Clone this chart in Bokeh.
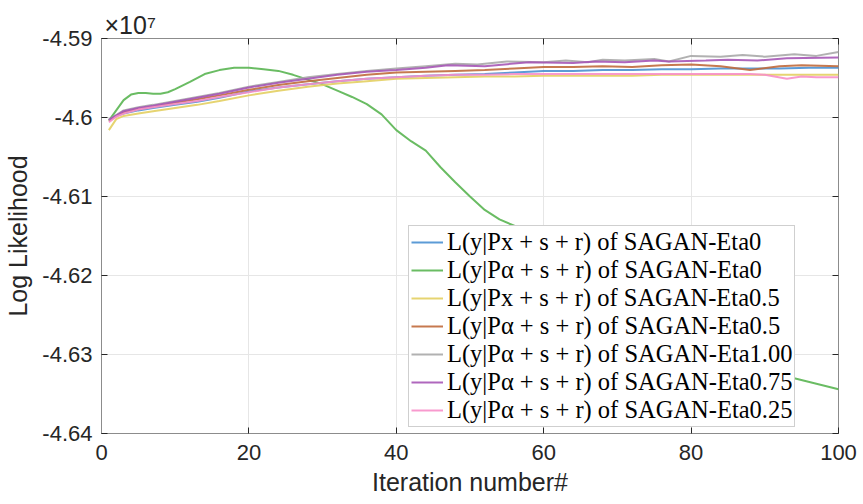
from bokeh.plotting import figure
from bokeh.models import (Range1d, FixedTicker, LinearAxis, CustomJSTickFormatter,
                          Legend, LegendItem)
from bokeh.embed import file_html
from bokeh.resources import INLINE

# values in units of 1e7 (axis multiplier "x10^7")
x_blue = [1, 2, 3, 5, 7, 10, 13, 16, 20, 24, 28, 32, 36, 40, 44, 48, 52, 56, 60, 64, 68, 72, 76, 80, 84, 88, 92, 96, 100]
y_blue = [-4.6003, -4.5998, -4.5995, -4.5991, -4.5988, -4.5984, -4.5980, -4.5975, -4.5967, -4.5962, -4.5958, -4.5954,
          -4.5951, -4.5949, -4.5947, -4.5946, -4.5945, -4.5943, -4.5941, -4.5941, -4.5940, -4.5940, -4.5939, -4.5939,
          -4.5938, -4.5938, -4.5938, -4.5937, -4.5937]

x_green = [1, 2, 3, 4, 5, 6, 7, 8, 9, 10, 12, 14, 16, 18, 20, 22, 24, 26, 28, 30, 32, 34, 36, 38, 40, 42, 44, 46, 48,
           50, 52, 54, 56, 58, 60, 65, 70, 75, 80, 85, 90, 94, 97, 100]
y_green = [-4.6004, -4.5991, -4.5978, -4.5971, -4.5969, -4.5969, -4.5970, -4.5970, -4.5968, -4.5964, -4.5955, -4.5945,
           -4.5940, -4.5937, -4.5937, -4.5939, -4.5941, -4.5946, -4.5952, -4.5958, -4.5966, -4.5974, -4.5983, -4.5996,
           -4.6016, -4.6030, -4.6042, -4.6063, -4.6082, -4.6100, -4.6117, -4.6129, -4.6137, -4.6145, -4.6158, -4.6190,
           -4.6220, -4.6250, -4.6277, -4.6300, -4.6318, -4.6330, -4.6337, -4.6344]

x_yellow = [1, 2, 3, 5, 7, 10, 13, 16, 20, 24, 28, 32, 36, 40, 44, 48, 52, 56, 60, 64, 68, 72, 76, 80, 84, 88, 92, 96, 100]
y_yellow = [-4.6016, -4.6002, -4.5998, -4.5995, -4.5992, -4.5988, -4.5984, -4.5979, -4.5972, -4.5966, -4.5961, -4.5957,
            -4.5954, -4.5951, -4.5950, -4.5949, -4.5948, -4.5948, -4.5947, -4.5947, -4.5947, -4.5947, -4.5946, -4.5946,
            -4.5946, -4.5946, -4.5946, -4.5946, -4.5946]

x_brown = [1, 3, 5, 7, 10, 13, 16, 20, 24, 28, 32, 36, 40, 44, 48, 52, 56, 60, 64, 68, 72, 76, 80, 84, 88, 92, 95, 100]
y_brown = [-4.6004, -4.5993, -4.5989, -4.5986, -4.5981, -4.5977, -4.5972, -4.5965, -4.5959, -4.5954, -4.5950, -4.5946,
           -4.5943, -4.5942, -4.5941, -4.5940, -4.5938, -4.5936, -4.5936, -4.5935, -4.5936, -4.5934, -4.5933, -4.5935,
           -4.5940, -4.5935, -4.5934, -4.5935]

x_gray = [1, 3, 5, 7, 10, 13, 16, 20, 24, 28, 32, 36, 40, 44, 48, 51, 55, 60, 63, 66, 68, 71, 75, 77, 80, 84, 87, 90,
          94, 97, 100]
y_gray = [-4.6003, -4.5991, -4.5987, -4.5984, -4.5979, -4.5974, -4.5969, -4.5961, -4.5955, -4.5949, -4.5945, -4.5941,
          -4.5938, -4.5935, -4.5932, -4.5933, -4.5929, -4.5930, -4.5928, -4.5930, -4.5927, -4.5928, -4.5926, -4.5929,
          -4.5922, -4.5923, -4.5921, -4.5923, -4.5920, -4.5922, -4.5917]

x_purple = [1, 3, 5, 7, 10, 13, 16, 20, 24, 28, 32, 36, 40, 44, 47, 52, 58, 64, 67, 71, 75, 77, 82, 85, 89, 93, 100]
y_purple = [-4.6003, -4.5992, -4.5988, -4.5985, -4.5980, -4.5975, -4.5970, -4.5962, -4.5956, -4.5951, -4.5946, -4.5942,
            -4.5940, -4.5937, -4.5934, -4.5935, -4.5930, -4.5931, -4.5929, -4.5930, -4.5928, -4.5929, -4.5928, -4.5927,
            -4.5928, -4.5925, -4.5924]

x_pink = [1, 2, 3, 5, 7, 10, 13, 16, 20, 24, 28, 32, 36, 40, 44, 48, 52, 56, 60, 64, 68, 72, 76, 80, 84, 88, 90, 93,
          95, 97, 100]
y_pink = [-4.6006, -4.5999, -4.5995, -4.5990, -4.5987, -4.5983, -4.5979, -4.5974, -4.5968, -4.5962, -4.5958, -4.5954,
          -4.5951, -4.5949, -4.5947, -4.5946, -4.5946, -4.5945, -4.5945, -4.5945, -4.5945, -4.5945, -4.5945, -4.5945,
          -4.5945, -4.5945, -4.5946, -4.5951, -4.5948, -4.5949, -4.5949]

labels = [
    "L(y|Px + s + r) of SAGAN-Eta0",
    "L(y|P\u03b1 + s + r) of SAGAN-Eta0",
    "L(y|Px + s + r) of SAGAN-Eta0.5",
    "L(y|P\u03b1 + s + r) of SAGAN-Eta0.5",
    "L(y|P\u03b1 + s + r) of SAGAN-Eta1.00",
    "L(y|P\u03b1 + s + r) of SAGAN-Eta0.75",
    "L(y|P\u03b1 + s + r) of SAGAN-Eta0.25",
]
colors = ["#4a90d2", "#5ab552", "#e3cf62", "#c06a3c", "#a8a8a8", "#a656b6", "#f78fc9"]

x_ticks = [0, 20, 40, 60, 80, 100]
y_ticks = [-4.64, -4.63, -4.62, -4.61, -4.60, -4.59]
multiplier = "\u00d710\u2077"

series = [(x_blue, y_blue), (x_green, y_green), (x_yellow, y_yellow), (x_brown, y_brown),
          (x_gray, y_gray), (x_purple, y_purple), (x_pink, y_pink)]

p = figure(width=862, height=503, output_backend="svg", toolbar_location=None,
           x_range=Range1d(0, 100), y_range=Range1d(-4.64, -4.59),
           min_border_left=101, min_border_right=24, min_border_top=38, min_border_bottom=70)
p.background_fill_color = "white"
p.border_fill_color = "white"
p.outline_line_color = "#8c8c8c"
p.outline_line_width = 1

FONT = "Liberation Sans"
p.title.text = multiplier
p.title.align = "left"
p.title.offset = 3
p.title.standoff = 0
p.title.text_font = FONT
p.title.text_font_size = "25px"
p.title.text_font_style = "normal"
p.title.text_color = "#262626"

for ax in (p.xaxis[0], p.yaxis[0]):
    ax.major_label_text_font = FONT
    ax.major_label_text_font_size = "22px"
    ax.major_label_text_color = "#262626"
    ax.axis_label_text_font = FONT
    ax.axis_label_text_font_size = "25px"
    ax.axis_label_text_font_style = "normal"
    ax.axis_label_text_color = "#262626"
    ax.axis_line_color = "#8c8c8c"
    ax.major_tick_line_color = "#262626"
    ax.major_tick_in = 6
    ax.major_tick_out = 0
    ax.minor_tick_line_color = None

p.xaxis[0].ticker = FixedTicker(ticks=x_ticks)
p.yaxis[0].ticker = FixedTicker(ticks=y_ticks)
p.yaxis[0].formatter = CustomJSTickFormatter(code="return String(parseFloat(tick.toFixed(2)));")
p.xaxis[0].axis_label = "Iteration number#"
p.yaxis[0].axis_label = "Log Likelihood"
p.xaxis[0].major_label_standoff = 11
p.xaxis[0].axis_label_standoff = 5
p.yaxis[0].major_label_standoff = 9
p.yaxis[0].axis_label_standoff = 7

empty = CustomJSTickFormatter(code="return '';")
top = LinearAxis(ticker=FixedTicker(ticks=x_ticks), formatter=empty, major_tick_in=6, major_tick_out=0,
                 minor_tick_line_color=None, axis_line_color=None, major_tick_line_color="#262626",
                 major_label_standoff=0, major_label_text_font_size="1px")
right = LinearAxis(ticker=FixedTicker(ticks=y_ticks), formatter=empty, major_tick_in=6, major_tick_out=0,
                   minor_tick_line_color=None, axis_line_color=None, major_tick_line_color="#262626",
                   major_label_standoff=0, major_label_text_font_size="1px")
p.add_layout(top, "above")
p.add_layout(right, "right")

p.xgrid.ticker = FixedTicker(ticks=x_ticks)
p.ygrid.ticker = FixedTicker(ticks=y_ticks)
p.grid.grid_line_color = "#e6e6e6"
p.grid.grid_line_width = 1

renderers = []
for (xs, ys), c in zip(series, colors):
    r = p.line(xs, ys, line_color=c, line_width=2, line_alpha=0.9)
    renderers.append(r)

items = [LegendItem(label=l, renderers=[r]) for l, r in zip(labels, renderers)]
legend = Legend(items=items, location=(307, 6))
legend.label_text_font = "Liberation Serif"
legend.label_text_font_size = "24.5px"
legend.label_text_color = "#000000"
legend.label_height = 28
legend.glyph_height = 28
legend.glyph_width = 32
legend.label_standoff = 4
legend.spacing = 0
legend.padding = 2
legend.margin = 0
legend.border_line_color = "#a0a0a0"
legend.border_line_width = 1
legend.background_fill_color = "white"
legend.background_fill_alpha = 1
p.add_layout(legend)

open("out.html", "w").write(file_html(p, INLINE))
